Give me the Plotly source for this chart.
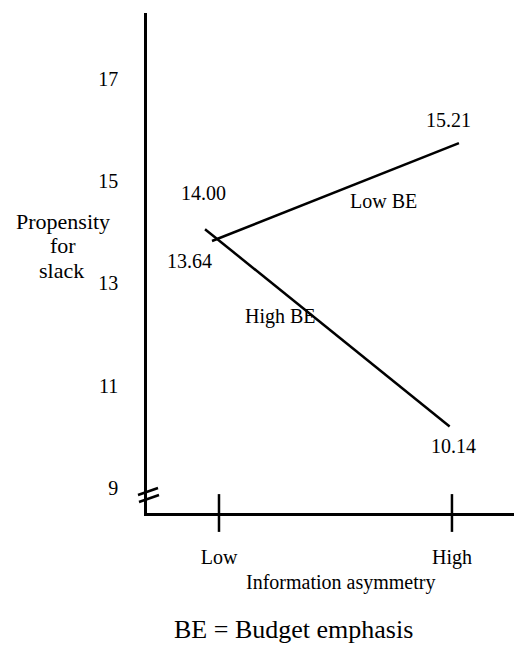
import plotly.graph_objects as go

# ---- data ----
x_categories = ["Low", "High"]
x_positions = [0, 1]
y_tick_values = [9, 11, 13, 15, 17]

low_be_x = [-0.03, 1.03]
low_be_y = [13.83, 15.74]
high_be_x = [-0.06, 0.99]
high_be_y = [14.06, 10.21]

low_be_labels = ["13.64", "15.21"]
high_be_labels = ["14.00", "10.14"]

W, H = 522, 664
FONT = "Liberation Serif"

# plot area in pixels
PX_L, PX_R = 139, 522
PX_T, PX_B = 5, 505
X_RANGE = [-0.309, 1.335]
Y_RANGE = [8.52, 18.28]


def pxp(px):
    return px / W


def pyp(py):
    return 1 - py / H


fig = go.Figure()
fig.add_trace(go.Scatter(x=low_be_x, y=low_be_y, mode="lines",
                         line=dict(color="black", width=2.5), name="Low BE",
                         hoverinfo="skip"))
fig.add_trace(go.Scatter(x=high_be_x, y=high_be_y, mode="lines",
                         line=dict(color="black", width=2.5), name="High BE",
                         hoverinfo="skip"))
# crossing tick marks on the x axis
fig.add_trace(go.Scatter(x=x_positions, y=[Y_RANGE[0]] * len(x_positions), mode="markers",
                         marker=dict(symbol="line-ns", size=27,
                                     line=dict(color="black", width=2.5)),
                         cliponaxis=False, hoverinfo="skip"))

fig.update_layout(
    width=W, height=H,
    margin=dict(l=0, r=0, t=0, b=0),
    paper_bgcolor="white", plot_bgcolor="white",
    showlegend=False,
    font=dict(family=FONT, size=20, color="black"),
    xaxis=dict(domain=[pxp(PX_L), pxp(PX_R)], range=X_RANGE,
               tickvals=x_positions, ticktext=x_categories,
               showgrid=False, zeroline=False, showline=True,
               linecolor="black", linewidth=2.5, ticks="",
               ticklabelstandoff=24,
               tickfont=dict(family=FONT, size=20, color="black")),
    yaxis=dict(domain=[pyp(PX_B), pyp(PX_T)], range=Y_RANGE,
               tickvals=y_tick_values,
               showgrid=False, zeroline=False, showline=True,
               linecolor="black", linewidth=2.5, ticks="",
               ticklabelstandoff=22,
               tickfont=dict(family=FONT, size=20, color="black")),
)

ann = []


def add_text(text, px, py, size=20, xanchor="center"):
    ann.append(dict(text=text, x=pxp(px), y=pyp(py), xref="paper", yref="paper",
                    xanchor=xanchor, yanchor="middle", showarrow=False,
                    font=dict(family=FONT, size=size, color="black")))


# data labels
add_text(high_be_labels[0], 195, 185)
add_text(low_be_labels[0], 181, 253)
add_text(low_be_labels[1], 440, 112)
add_text(high_be_labels[1], 445, 438)
# series labels
add_text("Low BE", 375, 193)
add_text("High BE", 272, 308)
# y axis title (three lines)
add_text("Propensity", 55, 213, size=22)
add_text("for", 55, 237, size=22)
add_text("slack", 53, 262, size=22)
# x axis title and note
add_text("Information asymmetry", 332, 574)
add_text("BE = Budget emphasis", 285, 621, size=26)

fig.update_layout(annotations=ann)

# axis break marks
for (x0, y0, x1, y1) in [(130, 487, 150, 480), (131, 494, 151, 487)]:
    fig.add_shape(type="line", xref="paper", yref="paper",
                  x0=pxp(x0), y0=pyp(y0), x1=pxp(x1), y1=pyp(y1),
                  line=dict(color="black", width=2.5))

fig.write_html("out.html")
